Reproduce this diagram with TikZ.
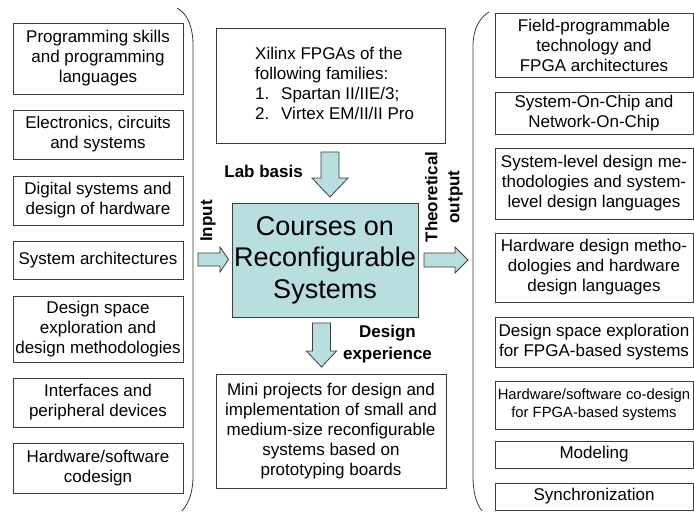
\documentclass[tikz,border=0pt]{standalone}
\usepackage{fontspec}
\setmainfont{Liberation Sans}
\definecolor{arrowfill}{RGB}{184,222,224}
\definecolor{edgecol}{RGB}{60,60,60}
\begin{document}
\begin{tikzpicture}[x=1pt,y=-1pt,
  txt/.style={font=\fontsize{17}{20}\selectfont},
  box/.style={txt, draw=edgecol, line width=0.8pt, inner sep=0pt, align=center},
  lbox/.style={box, minimum width=170pt},
  rbox/.style={box, minimum width=198pt},
  lbl/.style={font=\fontsize{17}{20}\selectfont\bfseries, inner sep=0pt, align=center},
  blockarrow/.style={fill=arrowfill, draw=edgecol, line width=0.8pt, line join=miter},
  bracket/.style={draw=edgecol, line width=0.8pt}]
\useasboundingbox (0,0) rectangle (694,512);

% left column
\node[lbox, minimum height=71pt] (l1) at (98,58.5) {Programming skills\\and programming\\languages};
\node[lbox, minimum height=49pt] (l2) at (98,134.5) {Electronics, circuits\\and systems};
\node[lbox, minimum height=49pt] (l3) at (98,200.5) {Digital systems and\\design of hardware};
\node[lbox, minimum height=38pt] (l4) at (98,260) {System architectures};
\node[lbox, minimum height=66pt] (l5) at (98,329) {Design space\\exploration and\\design methodologies};
\node[lbox, minimum height=49pt] (l6) at (98,402.5) {Interfaces and\\peripheral devices};
\node[lbox, minimum height=50pt] (l7) at (98,468) {Hardware/software\\codesign};

% right column
\node[rbox, minimum height=64pt] (r1) at (594,45) {Field-programmable\\technology and\\FPGA architectures};
\node[rbox, minimum height=42pt] (r2) at (594,113) {System-On-Chip and\\Network-On-Chip};
\node[rbox, minimum height=71pt] (r3) at (594,183.5) {System-level design me-\\thodologies and system-\\level design languages};
\node[rbox, minimum height=69pt] (r4) at (594,267.5) {Hardware design metho-\\dologies and hardware\\design languages};
\node[rbox, minimum height=50pt] (r5) at (594,342) {Design space exploration\\for FPGA-based systems};
\node[rbox, minimum height=48pt, font=\fontsize{14.8}{18}\selectfont] (r6) at (594,405) {Hardware/software co-design\\for FPGA-based systems};
\node[rbox, minimum height=27pt] (r7) at (594,454.5) {Modeling};
\node[rbox, minimum height=27pt] (r8) at (594,496.5) {Synchronization};

% centre
\node[box, minimum width=229pt, minimum height=115pt] (xil) at (330.5,85.5) {};
\node[txt, anchor=west, inner sep=0pt, align=left] (xiltext) at (255,83) {Xilinx FPGAs of the\\following families:\\\makebox[26pt][l]{1.}Spartan II/IIE/3;\\\makebox[26pt][l]{2.}Virtex EM/II/II Pro};

\node[box, fill=arrowfill, minimum width=186pt, minimum height=114pt, font=\fontsize{27}{31.5}\selectfont] (crs) at (325,260) {Courses on\\Reconfigurable\\Systems};

\node[box, minimum width=230pt, minimum height=114pt] (mini) at (331,431) {Mini projects for design and\\implementation of small and\\medium-size reconfigurable\\systems based on\\prototyping boards};

% block arrows
\draw[blockarrow] (321,152) -- (339,152) -- (339,178) -- (348,178) -- (330,197) -- (312,178) -- (321,178) -- cycle;
\draw[blockarrow] (198,253) -- (220,253) -- (220,247) -- (228.5,259.5) -- (220,272) -- (220,266) -- (198,266) -- cycle;
\draw[blockarrow] (424,253) -- (455,253) -- (455,247) -- (468,260) -- (455,273) -- (455,267) -- (424,267) -- cycle;
\draw[blockarrow] (312.5,323) -- (330.5,323) -- (330.5,351) -- (336.5,351) -- (321.5,367) -- (306.5,351) -- (312.5,351) -- cycle;

% labels
\node[lbl, anchor=east] (lab) at (303,171) {Lab basis};
\node[lbl, rotate=90] (inp) at (208,221) {Input};
\node[lbl, rotate=90] (theo) at (444,197) {Theoretical\\[2pt]output};
\node[lbl] (dexp) at (387.5,344) {Design\\[2pt]experience};

% brackets
\draw[bracket] (177,8) .. controls (188,14) and (193,28) .. (193,45) -- (193,476) .. controls (193,492) and (189,503) .. (182,511);
\draw[bracket] (489,12) .. controls (479,18) and (473,30) .. (473,46) -- (473,476) .. controls (473,492) and (476,503) .. (482,511);
\end{tikzpicture}
\end{document}
